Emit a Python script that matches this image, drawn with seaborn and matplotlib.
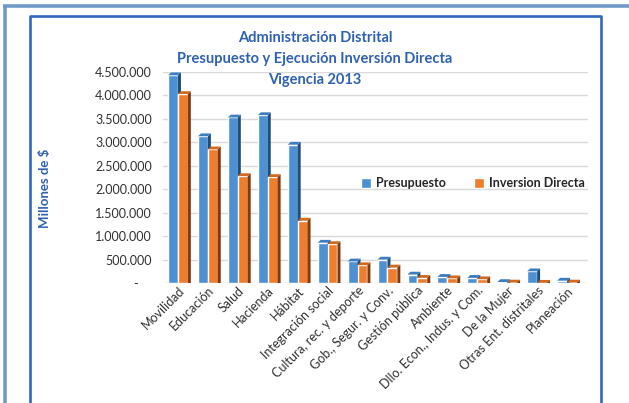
import matplotlib
matplotlib.use("Agg")
import matplotlib.pyplot as plt
import seaborn as sns
import pandas as pd
from matplotlib.patches import Polygon
from matplotlib.lines import Line2D

categorias = ["Movilidad", "Educación", "Salud", "Hacienda", "Hábitat",
              "Integración social", "Cultura, rec. y deporte", "Gob., Segur. y Conv.",
              "Gestión pública", "Ambiente", "Dllo. Econ., Indus. y Com.",
              "De la Mujer", "Otras Ent. distritales", "Planeación"]
presupuesto = [4430000, 3130000, 3530000, 3580000, 2950000, 860000, 460000, 500000,
               180000, 130000, 110000, 20000, 250000, 50000]
inversion = [4030000, 2850000, 2280000, 2260000, 1330000, 830000, 380000, 330000,
             110000, 100000, 80000, 10000, 5000, 10000]
series = ["Presupuesto", "Inversion Directa"]
yticks = [0, 500000, 1000000, 1500000, 2000000, 2500000, 3000000, 3500000, 4000000, 4500000]
ytick_labels = ["-    ", "500.000", "1.000.000", "1.500.000", "2.000.000", "2.500.000",
                "3.000.000", "3.500.000", "4.000.000", "4.500.000"]

df = pd.DataFrame({
    "Categoria": categorias * 2,
    "Serie": [series[0]] * len(categorias) + [series[1]] * len(categorias),
    "Valor": presupuesto + inversion,
})

W, H = 629, 403
sns.set_theme(style="white")
plt.rcParams["font.family"] = ["Lato", "DejaVu Sans"]

fig = plt.figure(figsize=(W / 100, H / 100), dpi=100)
ax = fig.add_axes([163 / W, 1 - 283 / H, (588 - 163) / W, (283 - 72) / H])

blue = "#4E91D2"
orange = "#EE7D2E"
sns.barplot(data=df, x="Categoria", y="Valor", hue="Serie", palette=[blue, orange],
            width=0.66, ax=ax, legend=True, saturation=1)

ax.set_ylim(0, 4500000)
ax.set_xlim(-0.5, 13.7)
ax.set_yticks(yticks)
ax.set_yticklabels(ytick_labels, fontsize=9, color="#303030")
ax.tick_params(axis="y", length=0, pad=8)
ax.tick_params(axis="x", length=0, pad=1)
ax.set_xticks(range(len(categorias)))
ax.set_xticklabels(categorias, rotation=45, ha="right", rotation_mode="anchor",
                   fontsize=9, color="#303030")
ax.set_xlabel("")
ax.set_ylabel("")
ax.yaxis.grid(True, color="#D9D9D9", linewidth=1)
ax.set_axisbelow(True)
for s in ax.spines.values():
    s.set_visible(False)

# pseudo 3D faces derived from the library's bar patches
d = 0.1
dy = 60000
side_cols = {blue: "#1F4E79", orange: "#7F3A10"}
top_cols = {blue: "#3C7CC0", orange: "#D2691F"}
n = len(categorias)
for i, p in enumerate(ax.patches[:2 * n]):
    x0 = p.get_x(); w = p.get_width(); h = p.get_height()
    x1 = x0 + w
    base = blue if i < n else orange
    z = 2 if i < n else 3
    p.set_zorder(z)
    side = Polygon([(x1, 0), (x1 + d, 0), (x1 + d, h + dy), (x1, h)],
                   closed=True, facecolor=side_cols[base], edgecolor="none", zorder=z + 0.1)
    top = Polygon([(x0, h), (x0 + d, h + dy), (x1 + d, h + dy), (x1, h)],
                  closed=True, facecolor=top_cols[base], edgecolor="none", zorder=z + 0.1)
    ax.add_patch(side)
    ax.add_patch(top)

leg = ax.legend(loc="upper left", bbox_to_anchor=((350 - 163) / (588 - 163), (283 - 166) / (283 - 72)),
                ncol=2, frameon=False, fontsize=9, handlelength=0.8, handleheight=0.8,
                columnspacing=2.2, handletextpad=0.4)
for t in leg.get_texts():
    t.set_fontweight("bold")
    t.set_color("#262626")

title_col = "#2E61B0"
cx = 315 / W
fig.text(cx, 1 - 38 / H, "Administración Distrital", ha="center", va="center",
         fontsize=10.5, fontweight="bold", color=title_col)
fig.text(cx, 1 - 59 / H, "Presupuesto y Ejecución Inversión Directa", ha="center",
         va="center", fontsize=10.5, fontweight="bold", color=title_col)
fig.text(cx, 1 - 80 / H, "Vigencia 2013", ha="center", va="center",
         fontsize=10.5, fontweight="bold", color=title_col)
fig.text(45 / W, 1 - 188 / H, "Millones de $", rotation=90, ha="center", va="center",
         fontsize=9.5, fontweight="bold", color=title_col)

# frames
outer = "#6F9BC8"
fig.add_artist(Line2D([4.5 / W, 4.5 / W], [0, 1 - 5.5 / H], color=outer, lw=2.6,
                      transform=fig.transFigure, solid_capstyle="butt"))
fig.add_artist(Line2D([3 / W, 1], [1 - 5.5 / H, 1 - 5.5 / H], color=outer, lw=2.6,
                      transform=fig.transFigure, solid_capstyle="butt"))
inner = "#2F67C1"
fig.add_artist(Line2D([29.5 / W, 29.5 / W, 601 / W, 601 / W], [0, 1 - 16 / H, 1 - 16 / H, 0],
                      color=inner, lw=1.9, transform=fig.transFigure))

fig.savefig("out.png", dpi=100)
